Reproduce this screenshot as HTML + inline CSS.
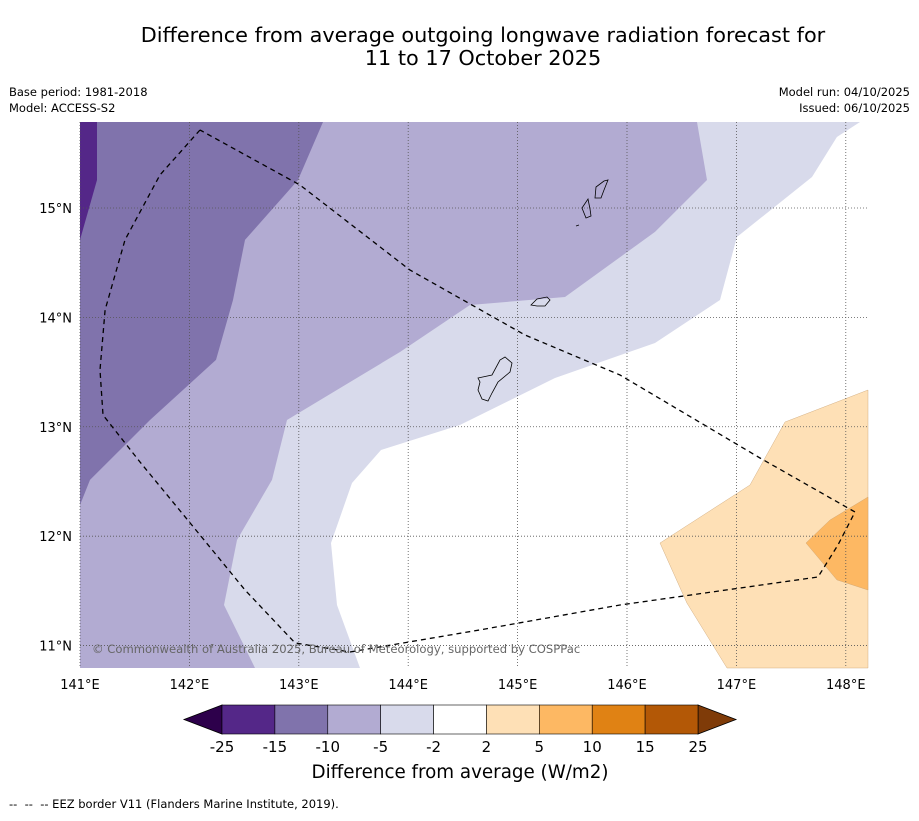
<!DOCTYPE html>
<html><head><meta charset="utf-8"><style>
body{margin:0;background:#fff;width:919px;height:816px;overflow:hidden;font-family:"Liberation Sans","DejaVu Sans",sans-serif;}
svg text{font-family:"DejaVu Sans","Liberation Sans",sans-serif;}
</style></head><body>
<svg id="chart" width="919" height="816" viewBox="0 0 919 816" xmlns="http://www.w3.org/2000/svg">
<text x="483" y="42" text-anchor="middle" font-size="20.8">Difference from average outgoing longwave radiation forecast for</text>
<text x="483" y="65" text-anchor="middle" font-size="20.8">11 to 17 October 2025</text>
<text x="9" y="96" font-size="11.5">Base period: 1981-2018</text>
<text x="9" y="112" font-size="11.5">Model: ACCESS-S2</text>
<text x="910" y="96" font-size="11.5" text-anchor="end">Model run: 04/10/2025</text>
<text x="910" y="112" font-size="11.5" text-anchor="end">Issued: 06/10/2025</text>
<g id="map"></g>
<g id="cbar"></g>
<text x="460" y="778" text-anchor="middle" font-size="18.3">Difference from average (W/m2)</text>
<text x="9" y="808" font-size="11.5" style="white-space:pre">--  --  -- EEZ border V11 (Flanders Marine Institute, 2019).</text>
</svg>
<script>
const lonTicks=[141,142,143,144,145,146,147,148];
const latTicks=[11,12,13,14,15];
const levelBounds=[-25,-15,-10,-5,-2,2,5,10,15,25];
const levelColors=["#542788","#8073ac","#b2abd2","#d8daeb","#ffffff","#fee0b6","#fdb863","#e08214","#b35806"];
const regionMinus5=[[141,10.795],[143.559,10.795],[143.349,11.371],[143.294,11.938],[143.486,12.486],[143.751,12.788],[144.473,13.016],[145.342,13.446],[146.256,13.766],[146.850,14.159],[147.005,14.735],[147.691,15.283],[147.919,15.649],[148.130,15.786],[141,15.786]];
const regionMinus10=[[141,10.795],[142.600,10.795],[142.316,11.371],[142.435,11.965],[142.755,12.514],[142.892,13.062],[143.925,13.684],[144.565,14.113],[145.433,14.186],[146.256,14.781],[146.731,15.256],[146.640,15.786],[141,15.786]];
const regionMinus15=[[141,15.786],[143.221,15.786],[142.993,15.256],[142.508,14.708],[142.399,14.159],[142.243,13.611],[141.640,13.062],[141.091,12.514],[141,12.285]];
const regionMinus25=[[141,15.786],[141.155,15.786],[141.155,15.256],[141,14.708]];
const regionPlus2=[[148.203,13.336],[147.444,13.044],[147.124,12.468],[146.302,11.938],[146.548,11.389],[146.914,10.795],[148.203,10.795]];
const regionPlus5=[[148.203,12.358],[147.856,12.148],[147.636,11.938],[147.919,11.600],[148.203,11.508]];
const eez=[[142.097,15.713],[141.731,15.302],[141.411,14.708],[141.229,14.068],[141.183,13.519],[141.210,13.108],[141.548,12.678],[142.097,12.011],[142.508,11.508],[142.965,11.024],[143.468,10.941],[144.656,11.143],[145.936,11.371],[147.746,11.627],[147.929,11.920],[148.084,12.221],[147.216,12.715],[145.936,13.473],[145.068,13.839],[144.016,14.433],[143.011,15.210],[142.097,15.713]];
const lonMin=141,lonMax=148.203,latMin=10.795,latMax=15.786;
const X0=80,X1=868,Y0=122,Y1=668;
const xs=l=>X0+(l-lonMin)/(lonMax-lonMin)*(X1-X0);
const ys=l=>Y0+(latMax-l)/(latMax-latMin)*(Y1-Y0);
const NS="http://www.w3.org/2000/svg";
const map=document.getElementById('map');
function mk(t,a,p){const e=document.createElementNS(NS,t);for(const k in a)e.setAttribute(k,a[k]);(p||map).appendChild(e);return e;}
const pts=a=>a.map(p=>xs(p[0]).toFixed(1)+','+ys(p[1]).toFixed(1)).join(' ');
let bg=mk('rect',{x:X0,y:Y0,width:X1-X0,height:Y1-Y0,fill:'#fff'});

const regions=[[regionMinus5,'#d8daeb','contour-minus5'],[regionMinus10,'#b2abd2','contour-minus10'],[regionMinus15,'#8073ac','contour-minus15'],[regionMinus25,'#542788','contour-minus25'],[regionPlus2,'#fee0b6','contour-plus2'],[regionPlus5,'#fdb863','contour-plus5']];
regions.forEach(r=>{const e=mk('polygon',{points:pts(r[0]),fill:r[1],stroke:(r[1]=='#fee0b6'||r[1]=='#fdb863')?'#c8a070':'none','stroke-width':0.4});

});
const isl=["M478,378 L492,375 L500,360 L505,357 L512,363 L510,372 L498,382 L492,393 L488,401 L482,399 L478,390 L480,382 Z","M531,305 L537,299 L547,297 L550,300 L545,306 L537,306 Z","M595,198 L596,187 L604,181 L608,180 L604,190 L601,198 Z","M582,208 L588,199 L590,209 L591,216 L586,218 Z","M576,226 L579,225"];
isl.forEach(d=>{const e=mk('path',{d:d,fill:'none',stroke:'#000','stroke-width':0.8});

});
lonTicks.forEach(l=>{const x=xs(l);const g=mk('line',{x1:x,x2:x,y1:Y0,y2:Y1,stroke:'#555','stroke-width':0.8,'stroke-dasharray':'1,2'});

const t=mk('text',{x:x,y:Y1+21,'text-anchor':'middle','font-size':13});t.textContent=l+'°E';
});
latTicks.forEach(l=>{const y=ys(l);const g=mk('line',{x1:X0,x2:X1,y1:y,y2:y,stroke:'#555','stroke-width':0.8,'stroke-dasharray':'1,2'});

const t=mk('text',{x:X0-8,y:y+5,'text-anchor':'end','font-size':13});t.textContent=l+'°N';
});
const ez=mk('polyline',{points:pts(eez),fill:'none',stroke:'#000','stroke-width':1.3,'stroke-dasharray':'5,4'});

const cp=mk('text',{x:92,y:653,'font-size':11.6,fill:'#666'});cp.textContent='© Commonwealth of Australia 2025, Bureau of Meteorology, supported by COSPPac';

const cb=document.getElementById('cbar');
const CX0=222,CX1=698,CY0=705,CY1=734,n=levelColors.length,w=(CX1-CX0)/n;
const l1=mk('polygon',{points:`${CX0},${CY0} ${CX0-38},${(CY0+CY1)/2} ${CX0},${CY1}`,fill:'#2d004b',stroke:'#000','stroke-width':0.8},cb);

const l2=mk('polygon',{points:`${CX1},${CY0} ${CX1+38},${(CY0+CY1)/2} ${CX1},${CY1}`,fill:'#7f3b08',stroke:'#000','stroke-width':0.8},cb);

levelColors.forEach((c,i)=>{const r=mk('rect',{x:CX0+i*w,y:CY0,width:w,height:CY1-CY0,fill:c,stroke:'#000','stroke-width':0.6},cb);
});
levelBounds.forEach((b,i)=>{const t=mk('text',{x:CX0+i*w,y:752,'text-anchor':'middle','font-size':15},cb);t.textContent=b;
});
</script>
</body></html>
